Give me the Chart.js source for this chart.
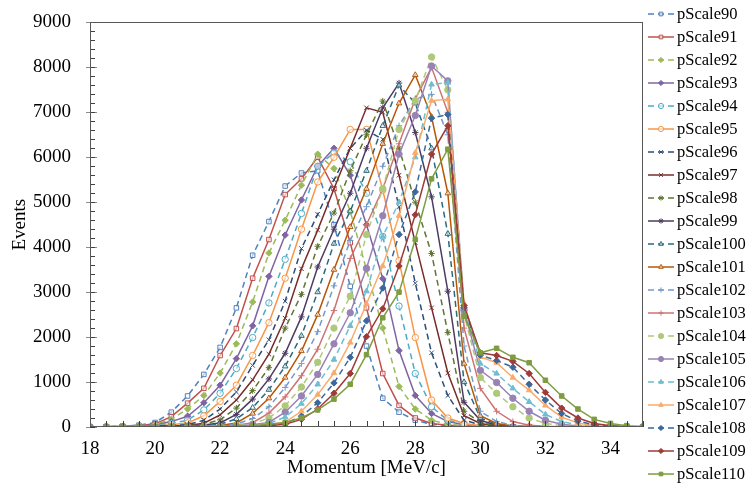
<!DOCTYPE html>
<html>
<head>
<meta charset="utf-8">
<script src="https://cdn.jsdelivr.net/npm/chart.js@4"></script>
<style>
  body { margin: 0; background: #fff; }
  #wrap { width: 749px; height: 484px; }
</style>
</head>
<body>
<div id="wrap"><canvas id="chart" width="749" height="484"></canvas></div>
<script>
// momentum bins [MeV/c]
const momentum = [18, 18.5, 19, 19.5, 20, 20.5, 21, 21.5, 22, 22.5, 23, 23.5, 24, 24.5, 25,
  25.5, 26, 26.5, 27, 27.5, 28, 28.5, 29, 29.5, 30, 30.5, 31, 31.5, 32, 32.5, 33, 33.5, 34, 34.5, 35];
const xTicks = [18, 20, 22, 24, 26, 28, 30, 32, 34];
const yTicks = [0, 1000, 2000, 3000, 4000, 5000, 6000, 7000, 8000, 9000];

const seriesNames = ['pScale90', 'pScale91', 'pScale92', 'pScale93', 'pScale94', 'pScale95', 'pScale96',
  'pScale97', 'pScale98', 'pScale99', 'pScale100', 'pScale101', 'pScale102', 'pScale103', 'pScale104',
  'pScale105', 'pScale106', 'pScale107', 'pScale108', 'pScale109', 'pScale110'];

// events per bin, one list per series
const p90  = [0,10,20,40,100, 330,690,1170,1770,2650, 3820,4570,5360,5650,5700, 4500,3130,1800,640,330, 150,60,30,15,5, 0,0,0,0,0, 0,0,0,0,0];
const p91  = [0,5,15,30,70, 230,530,860,1590,2190, 3310,4170,5170,5520,6000, 5300,4100,2650,1190,480, 200,80,40,20,10, 0,0,0,0,0, 0,0,0,0,0];
const p92  = [0,5,10,25,55, 170,400,700,1200,1850, 2780,3870,4600,5380,6070, 5750,4800,3500,2200,900, 400,150,60,30,10, 5,0,0,0,0, 0,0,0,0,0];
const p93  = [0,5,10,20,45, 120,240,540,930,1520, 2250,3350,4270,5050,5800, 6200,5600,4500,3300,1700, 700,300,120,50,20, 5,0,0,0,0, 0,0,0,0,0];
const p94  = [0,0,5,15,35, 80,150,380,750,1300, 1990,2760,3730,4750,5800, 6100,5900,5200,4240,2690, 1190,450,150,60,20, 10,0,0,0,0, 0,0,0,0,0];
const p95  = [0,0,5,10,25, 50,90,250,570,930, 1590,2320,3310,4400,5450, 6000,6620,6620,5270,3700, 1990,600,200,80,30, 10,0,0,0,0, 0,0,0,0,0];
const p96  = [0,0,0,5,15, 30,55,150,400,780, 1370,1940,2800,3970,4730, 5500,6200,6600,6400,4900, 3200,1650,700,150,50, 15,5,0,0,0, 0,0,0,0,0];
const p97  = [0,0,0,5,10, 20,35,85,270,600, 1050,1620,2420,3520,4380, 5300,6200,7100,7000,5600, 4100,2650,1200,250,80, 20,5,0,0,0, 0,0,0,0,0];
const p98  = [0,0,0,0,5, 15,25,60,160,420, 810,1320,2200,2950,4020, 4760,5700,6500,7250,6200, 5000,3860,2100,350,100, 30,10,0,0,0, 0,0,0,0,0];
const p99  = [0,0,0,0,5, 10,20,45,90,280, 620,1070,1640,2450,3560, 4400,5200,6200,7100,7650, 6550,5120,3020,550,150, 40,10,0,0,0, 0,0,0,0,0];
const p100 = [0,0,0,0,0, 10,15,30,60,180, 430,830,1350,2030,3000, 4080,4800,5700,6700,7600, 7200,6200,4300,1000,200, 60,20,5,0,0, 0,0,0,0,0];
const p101 = [0,0,0,0,0, 5,10,20,35,90, 300,640,1100,1690,2500, 3500,4450,5300,6300,7200, 7830,6900,5200,1410,250, 80,25,10,0,0, 0,0,0,0,0];
const p102 = [0,0,0,0,0, 5,10,15,25,65, 190,450,880,1410,2120, 3140,4150,4900,5800,6700, 7300,7400,6500,1800,350, 120,40,15,5,0, 0,0,0,0,0];
const p103 = [0,0,0,0,0, 0,5,10,20,40, 95,310,670,1140,1730, 2590,3750,4500,5300,6300, 7300,8000,7000,2200,860, 350,120,40,15,5, 0,0,0,0,0];
const p104 = [0,0,0,0,0, 0,5,10,15,30, 70,200,470,890,1440, 2200,2910,4280,5300,6620, 7260,8230,7500,2500,1100, 750,450,200,80,30, 10,0,0,0,0];
const p105 = [0,0,0,0,0, 0,0,5,10,20, 50,100,330,690,1170, 1850,2540,3530,4700,6070, 6930,8030,7700,2600,1260, 990,640,350,150,60, 20,5,0,0,0];
const p106 = [0,0,0,0,0, 0,0,5,10,15, 35,75,220,520,950, 1500,2250,3020,4240,5000, 6000,7620,7660,2700,1410, 1190,860,560,280,120, 50,20,5,0,0];
const p107 = [0,0,0,0,0, 0,0,0,5,10, 25,50,110,350,720, 1200,1880,2740,3580,4700, 6100,7260,7290,2750,1560, 1430,1100,820,480,220, 90,30,10,0,0];
const p108 = [0,0,0,0,0, 0,0,0,5,10, 20,40,80,240,540, 980,1550,2360,3090,4280, 5230,6870,6950,2650,1600, 1480,1330,950,600,300, 130,50,20,5,0];
const p109 = [0,0,0,0,0, 0,0,0,5,10, 15,30,60,170,400, 750,1190,2010,2630,3580, 4720,6070,6700,2700,1650, 1590,1460,1190,770,420, 200,80,30,10,0];
const p110 = [0,0,0,0,0, 0,0,0,5,10, 30,60,100,200,380, 620,950,1610,2430,3000, 4170,5520,6180,2470,1650, 1750,1550,1430,1040,690, 400,170,80,30,10];

const seriesValues = [p90, p91, p92, p93, p94, p95, p96, p97, p98, p99, p100,
  p101, p102, p103, p104, p105, p106, p107, p108, p109, p110];

// look of each series: colour, dashed?, marker, filled marker?
const looks = [
  ['#4F81BD', true,  'rect', false],
  ['#C0504D', false, 'rect', false],
  ['#9BBB59', true,  'rectRot', true],
  ['#8064A2', false, 'rectRot', true],
  ['#4BACC6', true,  'circle', false],
  ['#F79646', false, 'circle', false],
  ['#2C4D75', true,  'crossRot', false],
  ['#772C2A', false, 'crossRot', false],
  ['#5F7530', true,  'star', false],
  ['#4D3B62', false, 'star', false],
  ['#276A7C', true,  'triangle', false],
  ['#B65708', false, 'triangle', false],
  ['#729ACA', true,  'cross', false],
  ['#CD7371', false, 'cross', false],
  ['#AFC97A', true,  'circle', true],
  ['#9983B5', false, 'circle', true],
  ['#6FBDD1', true,  'triangle', true],
  ['#F9AB6B', false, 'triangle', true],
  ['#3A679C', true,  'rectRot', true],
  ['#9E3B38', false, 'rectRot', true],
  ['#7E9D40', false, 'rect', true]
];

const serif = 'Liberation Serif';

const datasets = seriesNames.map(function(name, i) {
  const look = looks[i];
  return {
    label: name,
    data: momentum.map((m, j) => ({ x: m, y: seriesValues[i][j] })),
    borderColor: look[0],
    borderWidth: 1.5,
    borderDash: look[1] ? [6, 4] : [],
    pointStyle: look[2],
    pointRadius: 3.2,
    pointBorderWidth: 1,
    pointBorderColor: look[0],
    pointBackgroundColor: look[3] ? look[0] : 'rgba(255,255,255,0.6)',
    tension: 0,
    fill: false,
    order: seriesNames.length - i
  };
});

// inward tick marks + plot box, like the spreadsheet original
const frame = {
  id: 'frame',
  afterDraw(chart) {
    const ctx = chart.ctx, a = chart.chartArea;
    const x = chart.scales.x, y = chart.scales.y;
    ctx.save();
    ctx.lineWidth = 1;
    ctx.strokeStyle = '#8c8c8c';
    yTicks.forEach(function(v) {
      const py = Math.round(y.getPixelForValue(v)) + 0.5;
      ctx.beginPath(); ctx.moveTo(a.left - 4, py); ctx.lineTo(a.left + 7, py); ctx.stroke();
    });
    ctx.strokeStyle = '#404040';
    for (let v = 0; v <= 9000; v += 200) {
      const py = Math.round(y.getPixelForValue(v)) + 0.5;
      ctx.beginPath(); ctx.moveTo(a.left, py); ctx.lineTo(a.left + 5, py); ctx.stroke();
    }
    for (let v = 18; v <= 35; v += 0.5) {
      const px = Math.round(x.getPixelForValue(v)) + 0.5;
      ctx.beginPath(); ctx.moveTo(px, a.bottom); ctx.lineTo(px, a.bottom - 6); ctx.stroke();
    }
    ctx.strokeStyle = '#595959';
    ctx.strokeRect(Math.round(a.left) + 0.5, Math.round(a.top) + 0.5,
      Math.round(a.width) - 1, Math.round(a.height) - 1);
    ctx.restore();
  }
};

// legend drawn as line + marker + name
const sideLegend = {
  id: 'sideLegend',
  afterDraw(chart) {
    const ctx = chart.ctx;
    ctx.save();
    chart.data.datasets.forEach(function(ds, i) {
      const cy = 14 + i * 23;
      ctx.strokeStyle = ds.borderColor;
      ctx.lineWidth = 1.5;
      ctx.setLineDash(ds.borderDash);
      ctx.beginPath(); ctx.moveTo(648, cy); ctx.lineTo(674, cy); ctx.stroke();
      ctx.setLineDash([]);
      ctx.fillStyle = ds.pointBackgroundColor;
      ctx.strokeStyle = ds.pointBorderColor;
      ctx.lineWidth = 1;
      Chart.helpers.drawPoint(ctx, { pointStyle: ds.pointStyle, radius: 2.6, rotation: 0, borderWidth: 1 }, 661, cy);
      ctx.fillStyle = '#000';
      ctx.font = '16.5px "' + serif + '"';
      ctx.textBaseline = 'middle';
      ctx.fillText(ds.label, 677, cy + 1);
    });
    ctx.restore();
  }
};

new Chart(document.getElementById('chart').getContext('2d'), {
  type: 'line',
  data: { datasets: datasets },
  options: {
    responsive: false,
    animation: false,
    layout: { padding: { top: 19, right: 106, left: 0, bottom: 0 } },
    plugins: { legend: { display: false }, tooltip: { enabled: false } },
    scales: {
      x: {
        type: 'linear',
        min: 18,
        max: 35,
        afterBuildTicks: s => { s.ticks = xTicks.map(v => ({ value: v })); },
        afterFit: s => { s.height = 57; },
        grid: { display: false },
        border: { display: false },
        ticks: { color: '#000', font: { family: serif, size: 19 }, padding: 3, maxRotation: 0,
          callback: v => String(v) },
        title: { display: true, text: 'Momentum [MeV/c]', color: '#000',
          font: { family: serif, size: 19 }, padding: { top: 0, bottom: 5 } }
      },
      y: {
        min: 0,
        max: 9000,
        afterBuildTicks: s => { s.ticks = yTicks.map(v => ({ value: v })); },
        afterFit: s => { s.width = 90; },
        grid: { display: false },
        border: { display: false },
        ticks: { color: '#000', font: { family: serif, size: 19 }, padding: 11,
          callback: v => String(v) },
        title: { display: true, text: 'Events', color: '#000',
          font: { family: serif, size: 19 }, padding: { top: 9, bottom: 0 } }
      }
    }
  },
  plugins: [frame, sideLegend]
});
</script>
</body>
</html>
